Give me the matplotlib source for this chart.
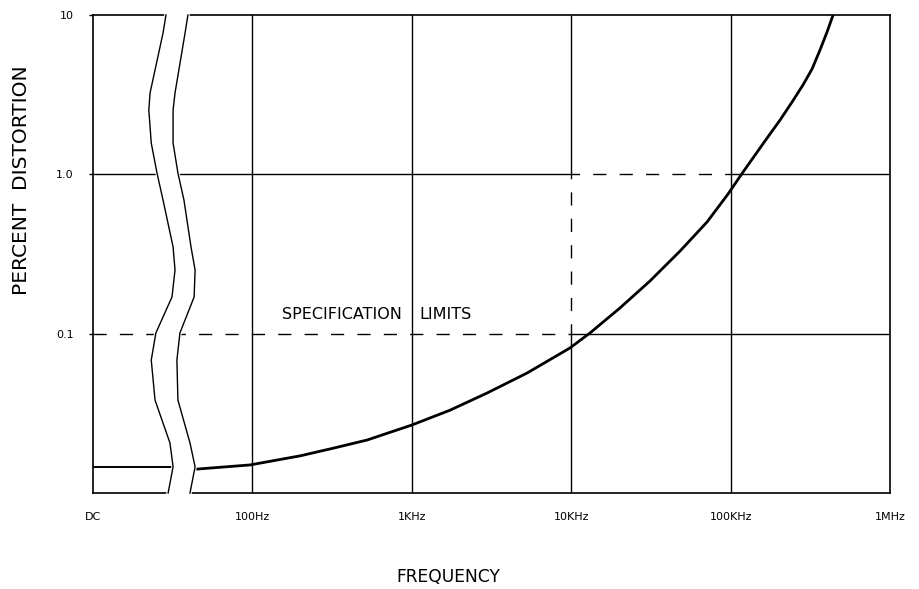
import numpy as np
import matplotlib.pyplot as plt

# tick positions / labels (DC is drawn at the 10 Hz position)
freq_ticks = [10, 100, 1000, 10000, 100000, 1000000]
freq_labels = ['DC', '100Hz', '1KHz', '10KHz', '100KHz', '1MHz']
dist_ticks = [0.1, 1.0, 10]
dist_labels = ['0.1', '1.0', '10']

# distortion at DC (left of the axis break)
dc_freq = [10, 31.8]
dc_dist = [0.0146, 0.0146]

# distortion vs frequency (right of the break)
curve_freq = [43.7, 96.6, 199, 321, 524, 1000, 1738, 2965, 5284, 9820, 13120,
              20230, 31190, 48180, 71120, 96350, 119700, 164400, 204200, 242800,
              284600, 324200, 363800, 402700, 439500]
curve_dist = [0.0141, 0.0150, 0.0171, 0.0191, 0.0215, 0.0267, 0.0331, 0.0424,
              0.0566, 0.0813, 0.101, 0.145, 0.214, 0.330, 0.502, 0.752, 1.034,
              1.62, 2.19, 2.84, 3.64, 4.58, 6.03, 7.82, 10.0]

# specification limits (dashed corner)
spec_freq = [10, 10000, 10000, 100000]
spec_dist = [0.1, 0.1, 1.0, 1.0]

# axis break outline (two wavy lines)
break_dist = [10.0, 7.71, 3.24, 2.53, 1.57, 1.02, 0.690, 0.350, 0.251, 0.170,
              0.101, 0.0683, 0.0383, 0.0206, 0.0146, 0.01]
break_left = [28.7, 27.5, 22.8, 22.4, 23.2, 25.2, 27.5, 31.8, 32.7, 31.3,
              24.8, 23.2, 24.5, 30.4, 31.8, 29.6]
break_right = [39.4, 37.8, 32.7, 31.8, 31.8, 34.1, 37.2, 41.2, 43.7, 43.1,
               35.1, 33.6, 34.1, 40.6, 43.7, 40.6]

fig = plt.figure(figsize=(9.2, 5.89), dpi=100)
ax = fig.add_axes([93 / 920, 1 - 493 / 589, 797 / 920, 478 / 589])
ax.set_xscale('log')
ax.set_yscale('log')
ax.set_xlim(freq_ticks[0], freq_ticks[-1])
ax.set_ylim(0.01, dist_ticks[-1])

# grid (solid parts)
for f in [100, 1000, 100000]:
    ax.axvline(f, color='black', lw=1.0, zorder=1)
f10k = spec_freq[1]
ax.vlines([f10k, f10k], [spec_dist[2], 0.01], [10, spec_dist[0]], color='black', lw=1.0, zorder=1)
ax.hlines([1.0, 1.0], [10, spec_freq[-1]], [f10k, 1e6], color='black', lw=1.0, zorder=1)
ax.hlines(0.1, f10k, 1e6, color='black', lw=1.0, zorder=1)

# spec limits
ax.plot(spec_freq, spec_dist, color='black', lw=1.0, dashes=(9.5, 9.5), zorder=1)
ax.text(362, 0.131, 'SPECIFICATION', fontsize=11.5, ha='center', va='center')
ax.text(1616, 0.131, 'LIMITS', fontsize=11.5, ha='center', va='center')

# curve
ax.plot(dc_freq, dc_dist, color='black', lw=1.4, zorder=2)
ax.plot(curve_freq, curve_dist, color='black', lw=2.0, zorder=2, solid_capstyle='butt')

# axis break
ax.fill(break_left + break_right[::-1], break_dist + break_dist[::-1],
        facecolor='white', edgecolor='white', lw=2.5, zorder=3, clip_on=False)
ax.plot(break_left, break_dist, color='black', lw=1.0, zorder=4, clip_on=False)
ax.plot(break_right, break_dist, color='black', lw=1.0, zorder=4, clip_on=False)

for s in ax.spines.values():
    s.set_linewidth(1.2)

ax.set_xticks(freq_ticks)
ax.set_xticklabels(freq_labels, fontsize=8)
ax.set_yticks(dist_ticks)
ax.set_yticklabels(dist_labels, fontsize=8)
ax.minorticks_off()
ax.tick_params(axis='x', length=0, pad=14)
ax.tick_params(axis='y', length=3, width=1, pad=11)

fig.text(22 / 920, 1 - 180 / 589, 'PERCENT  DISTORTION', rotation=90,
         ha='center', va='center', fontsize=14.5)
fig.text(448 / 920, 1 - 577 / 589, 'FREQUENCY', ha='center', va='center', fontsize=12.3)

fig.savefig('out.png', dpi=100)
